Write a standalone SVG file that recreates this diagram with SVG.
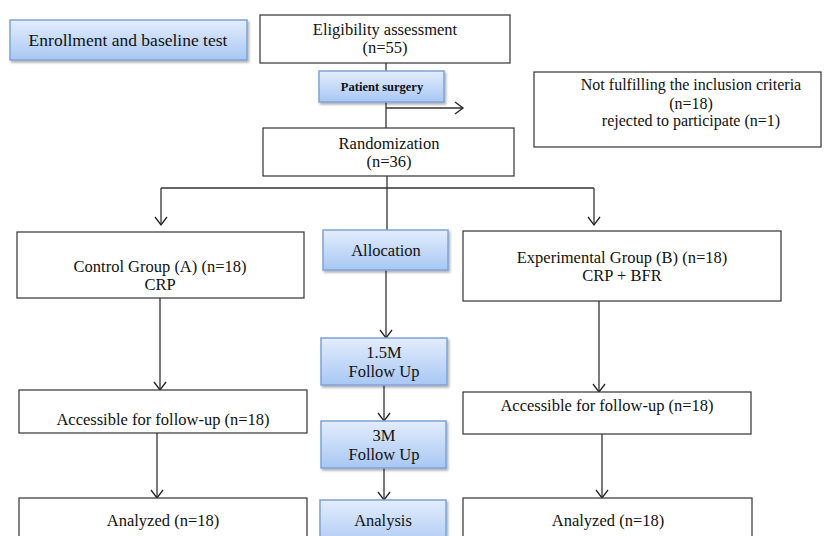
<svg xmlns="http://www.w3.org/2000/svg" width="837" height="536" viewBox="0 0 837 536">
<defs>
<linearGradient id="bg" x1="0" y1="0" x2="0" y2="1">
<stop offset="0" stop-color="#e3edfc"/>
<stop offset="1" stop-color="#a8c7f4"/>
</linearGradient>
<filter id="sh" x="-10%" y="-20%" width="130%" height="150%">
<feDropShadow dx="1.5" dy="2" stdDeviation="1.2" flood-color="#000" flood-opacity="0.3"/>
</filter>
<marker id="arr" markerWidth="14" markerHeight="14" refX="12" refY="7" orient="auto" markerUnits="userSpaceOnUse" viewBox="0 0 14 14">
<path d="M4,1 L12,7 L4,13" fill="none" stroke="#222" stroke-width="1.3"/>
</marker>
</defs>
<style>
.box{fill:#fff;stroke:#333;stroke-width:1.2}
.blue{fill:url(#bg);stroke:#7ea3d8;stroke-width:1.5;filter:url(#sh)}
text{font-family:"Liberation Serif","Times New Roman",serif;font-size:16.5px;fill:#111;text-anchor:middle}
.sm{font-size:12.5px;font-weight:bold}
.ln{fill:none;stroke:#333;stroke-width:1.3}
</style>
<rect width="837" height="536" fill="#fff"/>
<g id="connectors">
<line class="ln" x1="386" y1="63" x2="386" y2="128"/>
<line class="ln" x1="386" y1="108" x2="463" y2="108" marker-end="url(#arr)"/>
<line class="ln" x1="387" y1="176" x2="387" y2="231"/>
<polyline class="ln" points="161,188 594,188"/>
<line class="ln" x1="161" y1="188" x2="161" y2="225" marker-end="url(#arr)"/>
<line class="ln" x1="594" y1="188" x2="594" y2="225" marker-end="url(#arr)"/>
<line class="ln" x1="386" y1="270" x2="386" y2="338" marker-end="url(#arr)"/>
<line class="ln" x1="384" y1="385" x2="384" y2="421" marker-end="url(#arr)"/>
<line class="ln" x1="384" y1="468" x2="384" y2="500" marker-end="url(#arr)"/>
<line class="ln" x1="160" y1="298" x2="160" y2="390" marker-end="url(#arr)"/>
<line class="ln" x1="157" y1="433" x2="157" y2="498" marker-end="url(#arr)"/>
<line class="ln" x1="599" y1="301" x2="599" y2="392" marker-end="url(#arr)"/>
<line class="ln" x1="602" y1="434" x2="602" y2="498" marker-end="url(#arr)"/>
</g>
<g id="enrollment">
<rect class="blue" x="10" y="20" width="237" height="40"/>
<text x="128" y="46" style="font-size:17.5px">Enrollment and baseline test</text>
</g>
<g id="eligibility">
<rect class="box" x="260" y="15" width="250" height="48"/>
<text x="385" y="35">Eligibility assessment</text>
<text x="385" y="53">(n=55)</text>
</g>
<g id="surgery">
<rect class="blue" x="319" y="71" width="125" height="31"/>
<text class="sm" x="382" y="91">Patient surgery</text>
</g>
<g id="excluded">
<rect class="box" x="534" y="72" width="287" height="75"/>
<text x="691" y="90" style="font-size:16px">Not fulfilling the inclusion criteria</text>
<text x="691" y="109" style="font-size:16px">(n=18)</text>
<text x="691" y="126" style="font-size:16px">rejected to participate (n=1)</text>
</g>
<g id="randomization">
<rect class="box" x="263" y="128" width="251" height="48"/>
<text x="389" y="149">Randomization</text>
<text x="389" y="167">(n=36)</text>
</g>
<g id="control">
<rect class="box" x="17" y="232" width="287" height="66"/>
<text x="160" y="272">Control Group (A) (n=18)</text>
<text x="160" y="290">CRP</text>
</g>
<g id="allocation">
<rect class="blue" x="323" y="230" width="125" height="40"/>
<text x="386" y="256">Allocation</text>
</g>
<g id="experimental">
<rect class="box" x="463" y="231" width="318" height="70"/>
<text x="622" y="263">Experimental Group (B) (n=18)</text>
<text x="622" y="281">CRP + BFR</text>
</g>
<g id="fu15">
<rect class="blue" x="321" y="338" width="126" height="47"/>
<text x="384" y="358">1.5M</text>
<text x="384" y="377">Follow Up</text>
</g>
<g id="fu3">
<rect class="blue" x="321" y="421" width="125" height="47"/>
<text x="384" y="441">3M</text>
<text x="384" y="460">Follow Up</text>
</g>
<g id="analysis">
<rect class="blue" x="320" y="500" width="126" height="50"/>
<text x="383" y="526">Analysis</text>
</g>
<g id="accessA">
<rect class="box" x="19" y="390" width="288" height="43"/>
<text x="163" y="425">Accessible for follow-up (n=18)</text>
</g>
<g id="analyzedA">
<rect class="box" x="19" y="498" width="288" height="50"/>
<text x="163" y="526">Analyzed (n=18)</text>
</g>
<g id="accessB">
<rect class="box" x="463" y="392" width="288" height="42"/>
<text x="607" y="411">Accessible for follow-up (n=18)</text>
</g>
<g id="analyzedB">
<rect class="box" x="463" y="498" width="289" height="50"/>
<text x="608" y="526">Analyzed (n=18)</text>
</g>
</svg>
